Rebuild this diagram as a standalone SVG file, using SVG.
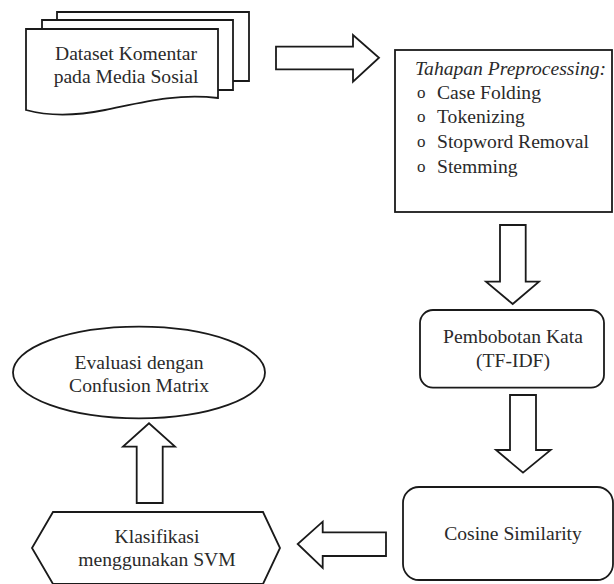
<svg xmlns="http://www.w3.org/2000/svg" width="614" height="584" viewBox="0 0 614 584">
<style>
.s{fill:#fff;stroke:#1a1a1a;stroke-width:1.8;stroke-linejoin:miter}
.n{fill:none;stroke:#1a1a1a;stroke-width:1.8}
.t{font-family:"Liberation Serif","Times New Roman",serif;font-size:19.6px;fill:#2a2a2a}
.b{font-family:"Liberation Serif","Times New Roman",serif;font-size:17px;fill:#2a2a2a}
.c{text-anchor:middle}
.i{font-style:italic}
</style>
<rect width="614" height="584" fill="#fff"/>
<g id="connectors">
<path class="s" d="M276,46.7 H353 V35 L379,57.7 L353,81.7 V69.3 H276 Z"/>
<path class="s" d="M500,225 H525.7 V281.7 H539 L512.7,304 L486,281.7 H500 Z"/>
<path class="s" d="M510,395 H536 V450 H550.7 L523,472.7 L496,450 H510 Z"/>
<path class="s" d="M386,532.3 V556 H322.7 V568 L297.7,544 L322.7,521.7 V532.3 Z"/>
<path class="s" d="M136.7,503 V446.7 H123 L149,423.3 L175,446.7 H162.7 V503 Z"/>
</g>
<g id="dataset">
<polyline class="n" points="57,20 57,12 249,12 249,81 233,81"/>
<polyline class="s" points="42,29 42,20 233,20 233,90 218,90"/>
<path class="s" d="M26,29 H218 V98 C175,93 140,103 105,110 C75,116 48,116 26,110 Z"/>
<text class="t c" x="126" y="60">Dataset Komentar</text>
<text class="t c" x="126" y="83">pada Media Sosial</text>
</g>
<g id="preprocessing">
<rect class="s" x="395" y="50" width="217" height="162"/>
<text class="t i" x="415" y="75">Tahapan Preprocessing:</text>
<text class="b" x="417" y="97.5">o</text><text class="t" x="437" y="98.5">Case Folding</text>
<text class="b" x="417" y="122">o</text><text class="t" x="437" y="123">Tokenizing</text>
<text class="b" x="417" y="147">o</text><text class="t" x="437" y="148">Stopword Removal</text>
<text class="b" x="417" y="172">o</text><text class="t" x="437" y="173">Stemming</text>
</g>
<g id="tfidf">
<rect class="s" x="420" y="310" width="184" height="77.7" rx="13"/>
<text class="t c" x="513" y="343">Pembobotan Kata</text>
<text class="t c" x="513" y="367">(TF-IDF)</text>
</g>
<g id="cosine">
<rect class="s" x="403" y="487" width="210" height="93" rx="16"/>
<text class="t c" x="513" y="540">Cosine Similarity</text>
</g>
<g id="svm">
<path class="s" d="M53,512 H263 L280,548 L263,584 H53 L32,548 Z"/>
<text class="t c" x="157" y="543">Klasifikasi</text>
<text class="t c" x="157" y="566">menggunakan SVM</text>
</g>
<g id="evaluasi">
<ellipse class="s" cx="139" cy="372.5" rx="126" ry="45.8"/>
<text class="t c" x="139" y="369">Evaluasi dengan</text>
<text class="t c" x="139" y="392">Confusion Matrix</text>
</g>
</svg>
